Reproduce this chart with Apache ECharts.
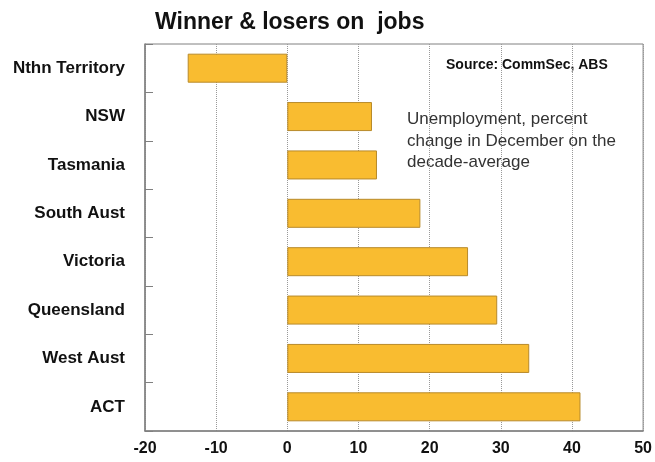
<!DOCTYPE html>
<html>
<head>
<meta charset="utf-8">
<script src="https://cdn.jsdelivr.net/npm/echarts@6/dist/echarts.min.js"></script>
<style>html,body{margin:0;padding:0;background:#fff}#c{width:655px;height:462px}</style>
</head>
<body>
<div id="c"></div>
<script>
const categories = ['Nthn Territory','NSW','Tasmania','South Aust','Victoria','Queensland','West Aust','ACT'];
const values = [-14.0, 11.9, 12.6, 18.7, 25.4, 29.5, 34.0, 41.2];
const xTicks = {min: -20, max: 50, interval: 10};
const titleText = 'Winner & losers on  jobs';
const sourceText = 'Source: CommSec, ABS';
const noteText = 'Unemployment, percent\nchange in December on the\ndecade-average';

const chart = echarts.init(document.getElementById('c'));
chart.setOption({
  backgroundColor: '#fff',
  animation: false,
  title: {
    text: titleText, left: 150, top: 6,
    textStyle: {fontFamily: 'Liberation Sans, Arial', fontWeight: 'bold', fontSize: 23, color: '#111'}
  },
  grid: {left: 145, right: 8, top: 44, bottom: 31, show: true, borderColor: '#808080', borderWidth: 1, containLabel: false},
  xAxis: {
    type: 'value', min: xTicks.min, max: xTicks.max, interval: xTicks.interval,
    axisLine: {show: true, lineStyle: {color: '#808080', width: 1.5}},
    axisTick: {show: false},
    axisLabel: {color: '#111', fontFamily: 'Liberation Sans, Arial', fontWeight: 'bold', fontSize: 16, margin: 10},
    splitLine: {show: true, lineStyle: {color: '#999', type: 'dotted', width: 1}}
  },
  yAxis: {
    type: 'category', data: categories, inverse: true,
    axisLine: {show: true, onZero: false, lineStyle: {color: '#808080', width: 1.5}},
    axisTick: {show: true, inside: true, length: 8, lineStyle: {color: '#808080'}},
    axisLabel: {color: '#111', fontFamily: 'Liberation Sans, Arial', fontWeight: 'bold', fontSize: 17, margin: 20},
    splitLine: {show: false}
  },
  series: [{
    type: 'bar', data: values, barCategoryGap: '40%',
    itemStyle: {color: '#F9BC30', borderColor: '#B88A2A', borderWidth: 1}
  }],
  graphic: [
    {type: 'text', left: 446, top: 58, style: {text: sourceText, font: 'bold 14px "Liberation Sans", Arial', fill: '#111'}},
    {type: 'text', left: 407, top: 109, style: {text: noteText, font: '17px "Liberation Sans", Arial', fill: '#333', lineHeight: 21.5}}
  ]
});
</script>
</body>
</html>
